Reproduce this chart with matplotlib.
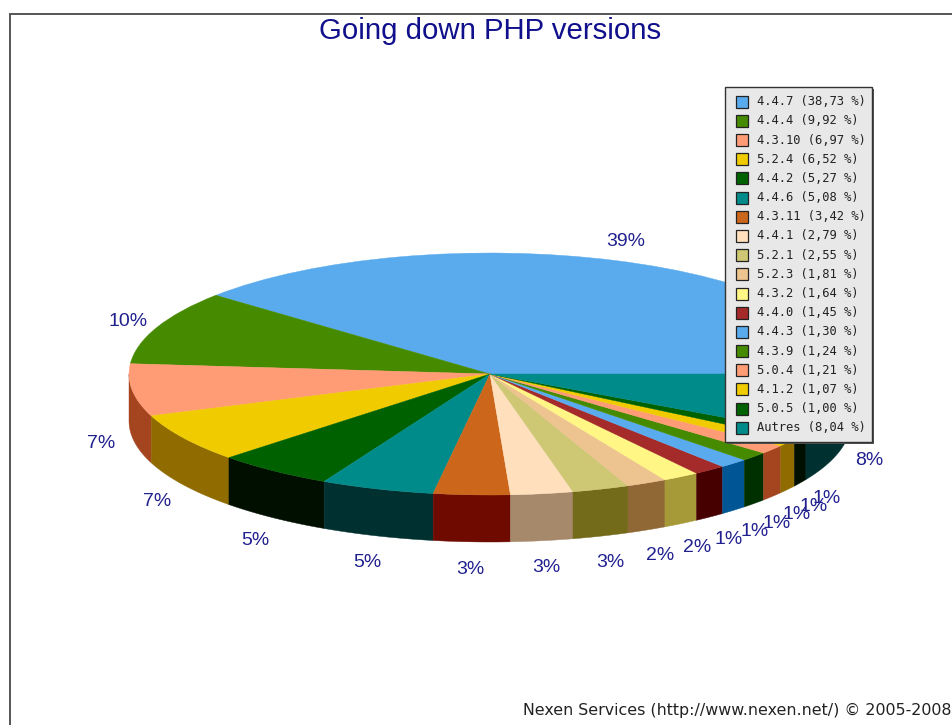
import numpy as np
import matplotlib
matplotlib.use("Agg")
import matplotlib.pyplot as plt
from matplotlib.patches import Wedge, Rectangle
from matplotlib.transforms import Affine2D

versions = ["4.4.7", "4.4.4", "4.3.10", "5.2.4", "4.4.2", "4.4.6", "4.3.11", "4.4.1", "5.2.1",
            "5.2.3", "4.3.2", "4.4.0", "4.4.3", "4.3.9", "5.0.4", "4.1.2", "5.0.5", "Autres"]
shares = [38.73, 9.92, 6.97, 6.52, 5.27, 5.08, 3.42, 2.79, 2.55,
          1.81, 1.64, 1.45, 1.30, 1.24, 1.21, 1.07, 1.00, 8.04]
top_colors = ["#59ABEE", "#468A00", "#FF9C76", "#EFCB00", "#006100", "#008B8B", "#CC661A", "#FFDFBC", "#CEC774",
              "#EDC38F", "#FFF685", "#A52A2A", "#59ABEE", "#468A00", "#FF9C76", "#EFCB00", "#006100", "#008B8B"]
side_colors = ["#005595", "#003000", "#A5451F", "#8F6B00", "#000F00", "#003030", "#6E0A00", "#A6896A", "#736A1A",
               "#8F6835", "#A69A38", "#470000", "#005595", "#003000", "#A5451F", "#8F6B00", "#000F00", "#003030"]
title = "Going down PHP versions"
footer = "Nexen Services (http://www.nexen.net/) \u00a9 2005-2008"

W, H = 953, 725
fig = plt.figure(figsize=(W / 100, H / 100), dpi=100, facecolor="white")
ax = fig.add_axes([0, 0, 1, 1])
ax.set_xlim(0, W)
ax.set_ylim(H, 0)
ax.axis("off")

# frame (left and top only, the rest is cropped in the reference)
ax.plot([10, 10, W], [H, 14, 14], color="#555555", lw=1.4, solid_joinstyle="miter")

cx, cy, rx, ry, depth = 490, 374, 361, 121, 47
lab_rx, lab_ry, lab_dy = 392, 145, 3.5

vals = np.array(shares)
edges = np.concatenate([[0], np.cumsum(vals)]) / vals.sum() * 360.0

# side walls: front half only
for i in range(len(vals)):
    a0, a1 = max(edges[i], 180), min(edges[i + 1], 360)
    if a1 <= a0:
        continue
    t = np.radians(np.linspace(a0, a1, 60))
    x = cx + rx * np.cos(t)
    y = cy - ry * np.sin(t)
    ax.fill(np.r_[x, x[::-1]], np.r_[y, y[::-1] + depth],
            facecolor=side_colors[i], edgecolor=side_colors[i], lw=0.3, zorder=2)

# top faces
ell = Affine2D().scale(rx, -ry).translate(cx, cy) + ax.transData
for i in range(len(vals)):
    ax.add_patch(Wedge((0, 0), 1, edges[i], edges[i + 1], transform=ell,
                       facecolor=top_colors[i], edgecolor=top_colors[i], lw=0.3, zorder=3))

# percentage labels
label_font = ["Liberation Sans", "DejaVu Sans"]
for i, v in enumerate(vals):
    m = np.radians((edges[i] + edges[i + 1]) / 2)
    lx = cx + lab_rx * np.cos(m)
    ly = cy - lab_ry * np.sin(m) + (depth if np.sin(m) < 0 else 0) + lab_dy
    ax.text(lx, ly, f"{round(v):d}%", ha="center", va="center", fontsize=14,
            color="#20208F", family=label_font, zorder=4)

ax.text(490, 31, title, ha="center", va="center", fontsize=21.2,
        color="#10108C", family=label_font, zorder=6)
ax.text(523, 710, footer, ha="left", va="center", fontsize=11.45, color="#222222",
        family="DejaVu Sans", zorder=6)

# legend
lx0, ly0, lw_, lh_ = 725, 86.5, 147, 355.5
ax.add_patch(Rectangle((lx0 + 2, ly0 + 2), lw_, lh_, facecolor="#555555", edgecolor="none", zorder=7))
ax.add_patch(Rectangle((lx0, ly0), lw_, lh_, facecolor="#E8E8E8", edgecolor="#333333", lw=1.0, zorder=8))
for i, (name, v) in enumerate(zip(versions, shares)):
    yy = 101.7 + i * 19.18
    ax.add_patch(Rectangle((736, yy - 6), 12, 12, facecolor=top_colors[i], edgecolor="#222222", lw=0.9, zorder=9))
    head, tail = f"{v:.2f}".split(".")
    ax.text(757, yy, f"{name} ({head},{tail} %)", ha="left", va="center", fontsize=8.7,
            color="#222222", family="DejaVu Sans Mono", zorder=9)

fig.savefig("out.png", dpi=100)
